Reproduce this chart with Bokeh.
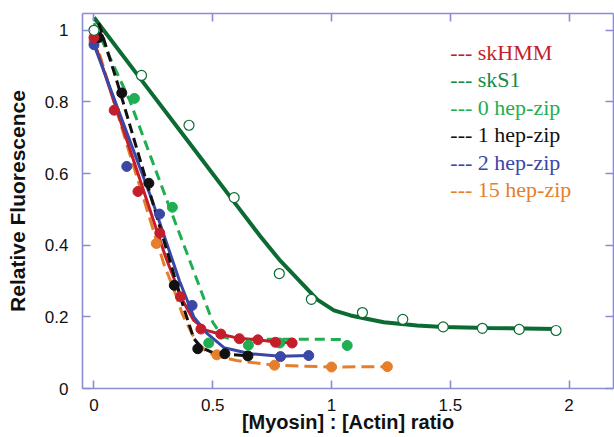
from bokeh.plotting import figure
from bokeh.models import LinearAxis, FixedTicker, Range1d, Label
from bokeh.embed import file_html
from bokeh.resources import INLINE

# ---- data ----
x_ticks = [0, 0.5, 1, 1.5, 2]
x_tick_labels = ["0", "0.5", "1", "1.5", "2"]
y_ticks = [0, 0.2, 0.4, 0.6, 0.8, 1]
y_tick_labels = ["0", "0.2", "0.4", "0.6", "0.8", "1"]

# skS1 (open circles, solid fit)
skS1_x = [0.0, 0.2, 0.4, 0.59, 0.78, 0.915, 1.13, 1.30, 1.47, 1.635, 1.79, 1.945]
skS1_y = [1.0, 0.874, 0.735, 0.533, 0.321, 0.249, 0.212, 0.193, 0.172, 0.168, 0.165, 0.162]
skS1_fit_x = [0, 0.2, 0.4, 0.6, 0.7, 0.78, 0.83, 0.89, 0.94, 1.01, 1.08, 1.22, 1.36, 1.47, 1.66, 1.95]
skS1_fit_y = [1.036, 0.861, 0.687, 0.512, 0.425, 0.36, 0.325, 0.283, 0.248, 0.218, 0.204, 0.185, 0.176, 0.172, 0.169, 0.166]

# skHMM (red)
hmm_x = [0.0, 0.085, 0.185, 0.277, 0.364, 0.45, 0.534, 0.612, 0.69, 0.764, 0.834]
hmm_y = [0.98, 0.777, 0.55, 0.434, 0.256, 0.166, 0.152, 0.139, 0.136, 0.129, 0.127]
hmm_fit_x = [0, 0.1, 0.2, 0.3, 0.37, 0.42, 0.47, 0.53, 0.61, 0.69, 0.764, 0.834]
hmm_fit_y = [0.97, 0.77, 0.57, 0.37, 0.25, 0.19, 0.163, 0.152, 0.14, 0.136, 0.13, 0.127]

# 0 hep-zip (green)
hz0_x = [0.0, 0.17, 0.33, 0.483, 0.65, 0.782, 1.066]
hz0_y = [1.0, 0.81, 0.506, 0.127, 0.121, 0.127, 0.12]
hz0_fit_x = [0, 0.15, 0.31, 0.41, 0.5, 0.54, 0.58, 1.05, 1.066]
hz0_fit_y = [1.02, 0.805, 0.52, 0.345, 0.185, 0.145, 0.138, 0.137, 0.12]

# 1 hep-zip (black)
hz1_x = [0.02, 0.117, 0.231, 0.338, 0.437, 0.551, 0.648]
hz1_y = [0.98, 0.825, 0.573, 0.288, 0.111, 0.097, 0.091]
hz1_fit_x = [0.02, 0.1, 0.2, 0.3, 0.38, 0.42, 0.45, 0.5, 0.55, 0.648]
hz1_fit_y = [1.02, 0.85, 0.625, 0.4, 0.22, 0.14, 0.115, 0.1, 0.096, 0.091]

# 2 hep-zip (blue)
hz2_x = [0.0, 0.138, 0.276, 0.413, 0.785, 0.904]
hz2_y = [0.96, 0.62, 0.487, 0.232, 0.089, 0.092]
hz2_fit_x = [0, 0.245, 0.36, 0.42, 0.477, 0.547, 0.659, 0.785, 0.904]
hz2_fit_y = [0.96, 0.525, 0.3, 0.2, 0.153, 0.114, 0.097, 0.09, 0.092]

# 15 hep-zip (orange)
hz15_x = [0.0, 0.262, 0.517, 0.76, 1.0, 1.235]
hz15_y = [0.97, 0.405, 0.094, 0.065, 0.06, 0.061]
hz15_fit_x = [0, 0.15, 0.294, 0.343, 0.371, 0.427, 0.477, 0.52, 0.6, 0.76, 1.0, 1.235]
hz15_fit_y = [0.985, 0.656, 0.348, 0.265, 0.209, 0.134, 0.101, 0.09, 0.078, 0.065, 0.06, 0.061]

legend_labels = ["--- skHMM", "--- skS1", "--- 0 hep-zip", "--- 1 hep-zip", "--- 2 hep-zip", "--- 15 hep-zip"]
legend_colors = ["#c41e2a", "#178a45", "#1fae52", "#111111", "#3a47a6", "#e57f2c"]
legend_y = [0.939, 0.862, 0.785, 0.709, 0.631, 0.556]
legend_x = 1.50

RED = "#c41e2a"
DKGREEN = "#0b6b32"
GREEN = "#1fae52"
BLACK = "#111111"
BLUE = "#3a47a6"
ORANGE = "#e57f2c"
FRAME = "#8c8cd2"

p = figure(width=614, height=437, output_backend="svg", toolbar_location=None,
           x_range=Range1d(-0.0484, 2.187), y_range=Range1d(0, 1.047),
           x_axis_location=None, y_axis_location=None,
           min_border_left=82, min_border_right=1, min_border_top=13, min_border_bottom=49)
p.outline_line_color = None
p.background_fill_color = "white"
p.border_fill_color = "white"
p.xgrid.visible = False
p.ygrid.visible = False


def make_axis(ticks, labels, show_labels, label_text=None):
    ax = LinearAxis(ticker=FixedTicker(ticks=ticks),
                    major_label_overrides=dict(zip(ticks, labels)))
    ax.axis_line_color = FRAME
    ax.axis_line_width = 1.6
    ax.major_tick_line_color = FRAME
    ax.major_tick_line_width = 1.6
    ax.major_tick_in = 8
    ax.major_tick_out = 0
    ax.minor_tick_line_color = None
    if show_labels:
        ax.major_label_text_font = "Liberation Sans"
        ax.major_label_text_font_size = "17px"
        ax.major_label_text_color = "#111111"
        ax.axis_label = label_text
        ax.axis_label_text_font = "Liberation Sans"
        ax.axis_label_text_font_style = "bold"
        ax.axis_label_text_color = "#111111"
    else:
        ax.major_label_text_color = None
        ax.major_label_standoff = 0
    return ax


bottom = make_axis(x_ticks, x_tick_labels, True, "[Myosin] : [Actin] ratio")
bottom.major_label_standoff = 10
bottom.axis_label_standoff = -3
bottom.axis_label_text_font_size = "20px"
left = make_axis(y_ticks, y_tick_labels, True, "Relative Fluorescence")
left.major_label_standoff = 14
left.axis_label_standoff = 13
left.axis_label_text_font_size = "21px"
top = make_axis(x_ticks, x_tick_labels, False)
right = make_axis(y_ticks, y_tick_labels, False)
p.add_layout(bottom, "below")
p.add_layout(left, "left")
p.add_layout(top, "above")
p.add_layout(right, "right")

# fit lines
p.line(skS1_fit_x, skS1_fit_y, line_color=DKGREEN, line_width=4)
p.line(hz0_fit_x, hz0_fit_y, line_color=GREEN, line_width=3, line_dash="10 6")
p.line(hz15_fit_x, hz15_fit_y, line_color=ORANGE, line_width=3, line_dash="13 6")
p.line(hmm_fit_x, hmm_fit_y, line_color=RED, line_width=3)
p.line(hz2_fit_x, hz2_fit_y, line_color=BLUE, line_width=3)
p.line(hz1_fit_x, hz1_fit_y, line_color=BLACK, line_width=3, line_dash="10 5")

# points
p.scatter(hz15_x, hz15_y, marker="circle", size=10, fill_color=ORANGE, line_color=ORANGE)
p.scatter(hz2_x, hz2_y, marker="circle", size=10, fill_color=BLUE, line_color=BLUE)
p.scatter(hz1_x, hz1_y, marker="circle", size=10, fill_color=BLACK, line_color=BLACK)
p.scatter(hz0_x, hz0_y, marker="circle", size=10, fill_color=GREEN, line_color=GREEN)
p.scatter(hmm_x, hmm_y, marker="circle", size=10, fill_color=RED, line_color=RED)
p.scatter(skS1_x, skS1_y, marker="circle", size=10, fill_color="white", line_color=DKGREEN, line_width=1.2)

for txt, col, yy in zip(legend_labels, legend_colors, legend_y):
    p.add_layout(Label(x=legend_x, y=yy, text=txt, text_color=col,
                       text_font="Liberation Serif", text_font_size="22px",
                       text_baseline="middle", text_align="left"))

open("out.html", "w").write(file_html(p, INLINE))
